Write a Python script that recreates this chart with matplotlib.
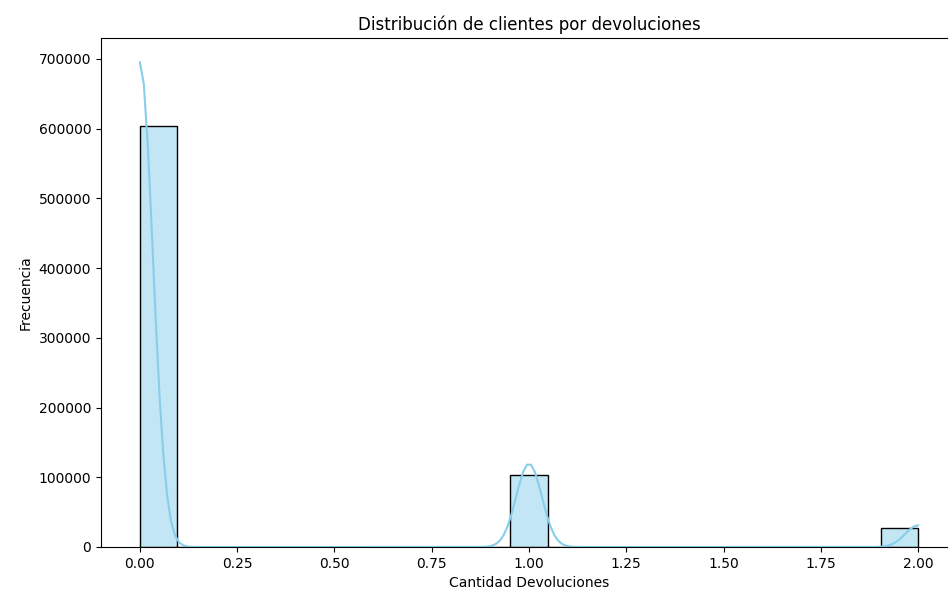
import numpy as np
import matplotlib
matplotlib.use("Agg")
import matplotlib.pyplot as plt
import seaborn as sns

# observed values and how many clients have each
devoluciones = [0, 1, 2]
clientes = [604000, 103700, 27000]

data = np.repeat(devoluciones, clientes).astype(float)

fig = plt.figure(figsize=(9.48, 5.94), dpi=100)
# the right spine falls just outside the picture, as in the reference
ax = fig.add_axes([101 / 948, 1 - 547 / 594, (957 - 101) / 948, (547 - 38) / 594])

sns.histplot(data, bins=21, kde=True, color="skyblue", edgecolor="black", ax=ax)

ax.set_title("Distribución de clientes por devoluciones")
ax.set_xlabel("Cantidad Devoluciones")
ax.set_ylabel("Frecuencia")

fig.savefig("out.png", dpi=100)
